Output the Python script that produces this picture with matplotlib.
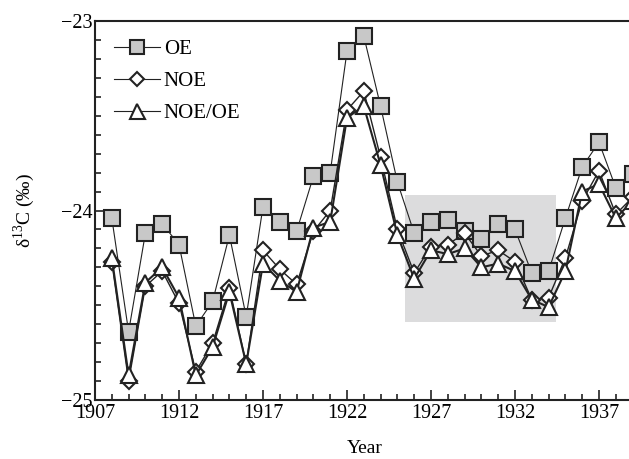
import matplotlib
matplotlib.use("Agg")
import matplotlib.pyplot as plt
from matplotlib.ticker import MultipleLocator, FixedLocator
from matplotlib.patches import Rectangle

years = list(range(1908, 1940))
oe = [-24.04, -24.64, -24.12, -24.07, -24.18, -24.61, -24.48, -24.13, -24.56,
      -23.98, -24.06, -24.11, -23.82, -23.80, -23.16, -23.08, -23.45, -23.85,
      -24.12, -24.06, -24.05, -24.11, -24.15, -24.07, -24.10, -24.33, -24.32,
      -24.04, -23.77, -23.64, -23.88, -23.81]
noe = [-24.27, -24.90, -24.40, -24.32, -24.49, -24.85, -24.70, -24.41, -24.81,
       -24.21, -24.31, -24.39, -24.11, -24.00, -23.47, -23.37, -23.72, -24.10,
       -24.33, -24.19, -24.18, -24.12, -24.24, -24.21, -24.27, -24.47, -24.46,
       -24.25, -23.95, -23.79, -24.02, -23.93]
noe_oe = [-24.25, -24.87, -24.38, -24.30, -24.46, -24.87, -24.72, -24.43, -24.81,
          -24.28, -24.37, -24.43, -24.09, -24.06, -23.51, -23.45, -23.76, -24.13,
          -24.36, -24.21, -24.23, -24.20, -24.30, -24.28, -24.32, -24.47, -24.51,
          -24.32, -23.90, -23.86, -24.04, -23.95]
shade_x = (1925.45, 1934.45)
shade_y = (-24.59, -23.92)
xtick_vals = [1907, 1912, 1917, 1922, 1927, 1932, 1937]
ytick_vals = [-25, -24, -23]

plt.rcParams['font.family'] = ['Liberation Serif', 'DejaVu Serif']
plt.rcParams['mathtext.fontset'] = 'custom'
plt.rcParams['mathtext.rm'] = 'Liberation Serif'

fig = plt.figure(figsize=(6.29, 4.59), dpi=100)
ax = fig.add_axes([95/629, 59/459, 33*16.8/629, 379/459])

ax.add_patch(Rectangle((shade_x[0], shade_y[0]), shade_x[1]-shade_x[0],
                       shade_y[1]-shade_y[0], facecolor='#dcdcdd',
                       edgecolor='none', zorder=0))

ec = '#222222'
ax.plot(years, oe, color=ec, lw=0.8, marker='s', ms=11.5, mfc='#c8c8c8',
        mec=ec, mew=1.5, label='OE', zorder=2)
ax.plot(years, noe, color=ec, lw=1.0, marker='D', ms=8, mfc='white',
        mec=ec, mew=1.5, label='NOE', zorder=3)
ax.plot(years, noe_oe, color=ec, lw=1.5, marker='^', ms=12, mfc='white',
        mec=ec, mew=1.5, label='NOE/OE', zorder=4)

ax.set_xlim(1907, 1940)
ax.set_ylim(-25, -23)
ax.xaxis.set_major_locator(FixedLocator(xtick_vals))
ax.xaxis.set_minor_locator(MultipleLocator(1))
ax.yaxis.set_major_locator(FixedLocator(ytick_vals))
ax.yaxis.set_minor_locator(MultipleLocator(0.1))
ax.set_xticklabels([str(v) for v in xtick_vals])
ax.set_yticklabels(['\u2212%d' % abs(v) for v in ytick_vals])
ax.tick_params(which='both', direction='in', top=False, right=False,
               labelsize=14.5, width=1.2, color='#222222')
ax.tick_params(which='major', length=7, pad=2)
ax.tick_params(axis='x', which='major', pad=3)
ax.tick_params(which='minor', length=4)
for s in ax.spines.values():
    s.set_linewidth(1.5)
    s.set_color('#222222')

ax.set_xlabel('Year', fontsize=14)
ax.xaxis.set_label_coords(0.486, -0.105)
ax.set_ylabel('\u03b4$^{13}$C (\u2030)', fontsize=14, labelpad=17)

leg = ax.legend(loc='upper left', frameon=False, fontsize=15,
                handlelength=2.2, handletextpad=0.2, labelspacing=0.6,
                borderaxespad=0.3, borderpad=0.6, markerscale=0.9)
for ln in leg.get_lines():
    ln.set_linewidth(0.8)

fig.savefig('out.png', dpi=100)
